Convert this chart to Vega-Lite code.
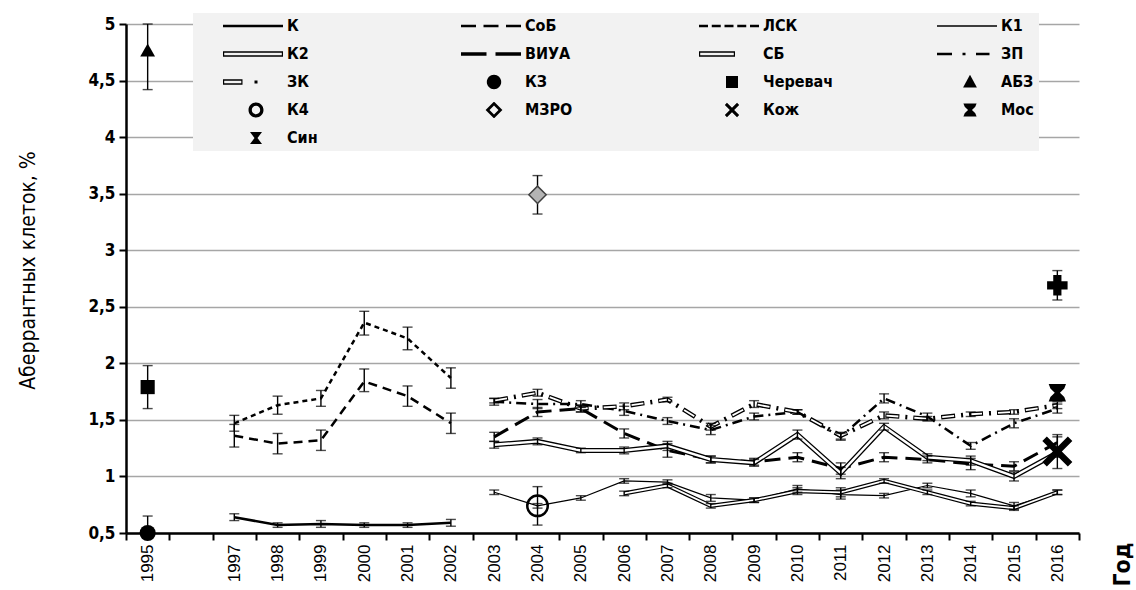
{
  "$schema": "https://vega.github.io/schema/vega-lite/v6.json",
  "width": 953,
  "height": 509,
  "autosize": {"type": "none"},
  "padding": {"left": 126, "top": 24, "right": 57, "bottom": 57},
  "background": "white",
  "config": {
    "view": {"stroke": null},
    "font": "Liberation Sans"
  },
  "data": {"values": [
    {"s": "К", "yr": 1997, "v": 0.64, "lo": 0.61, "hi": 0.67},
    {"s": "К", "yr": 1998, "v": 0.57, "lo": 0.55, "hi": 0.59},
    {"s": "К", "yr": 1999, "v": 0.58, "lo": 0.55, "hi": 0.61},
    {"s": "К", "yr": 2000, "v": 0.57, "lo": 0.55, "hi": 0.59},
    {"s": "К", "yr": 2001, "v": 0.57, "lo": 0.55, "hi": 0.59},
    {"s": "К", "yr": 2002, "v": 0.59, "lo": 0.56, "hi": 0.62},
    {"s": "СоБ", "yr": 1997, "v": 1.36, "lo": 1.26, "hi": 1.46},
    {"s": "СоБ", "yr": 1998, "v": 1.29, "lo": 1.2, "hi": 1.38},
    {"s": "СоБ", "yr": 1999, "v": 1.32, "lo": 1.23, "hi": 1.41},
    {"s": "СоБ", "yr": 2000, "v": 1.84, "lo": 1.75, "hi": 1.95},
    {"s": "СоБ", "yr": 2001, "v": 1.71, "lo": 1.62, "hi": 1.8},
    {"s": "СоБ", "yr": 2002, "v": 1.47, "lo": 1.38, "hi": 1.56},
    {"s": "ЛСК", "yr": 1997, "v": 1.47, "lo": 1.4, "hi": 1.54},
    {"s": "ЛСК", "yr": 1998, "v": 1.63, "lo": 1.55, "hi": 1.71},
    {"s": "ЛСК", "yr": 1999, "v": 1.69, "lo": 1.62, "hi": 1.76},
    {"s": "ЛСК", "yr": 2000, "v": 2.36, "lo": 2.25, "hi": 2.46},
    {"s": "ЛСК", "yr": 2001, "v": 2.22, "lo": 2.12, "hi": 2.32},
    {"s": "ЛСК", "yr": 2002, "v": 1.87, "lo": 1.78, "hi": 1.96},
    {"s": "К1", "yr": 2003, "v": 0.86, "lo": 0.84, "hi": 0.88},
    {"s": "К1", "yr": 2004, "v": 0.74, "lo": 0.72, "hi": 0.76},
    {"s": "К1", "yr": 2005, "v": 0.81, "lo": 0.79, "hi": 0.83},
    {"s": "К1", "yr": 2006, "v": 0.96, "lo": 0.94, "hi": 0.98},
    {"s": "К1", "yr": 2007, "v": 0.95, "lo": 0.93, "hi": 0.97},
    {"s": "К1", "yr": 2008, "v": 0.81, "lo": 0.78, "hi": 0.84},
    {"s": "К1", "yr": 2009, "v": 0.79, "lo": 0.77, "hi": 0.81},
    {"s": "К1", "yr": 2010, "v": 0.89, "lo": 0.86, "hi": 0.92},
    {"s": "К1", "yr": 2011, "v": 0.84, "lo": 0.8, "hi": 0.88},
    {"s": "К1", "yr": 2012, "v": 0.83, "lo": 0.81, "hi": 0.85},
    {"s": "К1", "yr": 2013, "v": 0.92, "lo": 0.9, "hi": 0.94},
    {"s": "К1", "yr": 2014, "v": 0.85, "lo": 0.82, "hi": 0.88},
    {"s": "К1", "yr": 2015, "v": 0.74, "lo": 0.71, "hi": 0.77},
    {"s": "К1", "yr": 2016, "v": 0.86, "lo": 0.84, "hi": 0.88},
    {"s": "К2", "yr": 2006, "v": 0.85, "lo": 0.83, "hi": 0.87},
    {"s": "К2", "yr": 2007, "v": 0.92, "lo": 0.9, "hi": 0.94},
    {"s": "К2", "yr": 2008, "v": 0.74, "lo": 0.72, "hi": 0.76},
    {"s": "К2", "yr": 2009, "v": 0.79, "lo": 0.77, "hi": 0.81},
    {"s": "К2", "yr": 2010, "v": 0.87, "lo": 0.84, "hi": 0.9},
    {"s": "К2", "yr": 2011, "v": 0.86, "lo": 0.82, "hi": 0.9},
    {"s": "К2", "yr": 2012, "v": 0.96, "lo": 0.94, "hi": 0.98},
    {"s": "К2", "yr": 2013, "v": 0.86, "lo": 0.84, "hi": 0.88},
    {"s": "К2", "yr": 2014, "v": 0.76, "lo": 0.74, "hi": 0.78},
    {"s": "К2", "yr": 2015, "v": 0.72, "lo": 0.7, "hi": 0.74},
    {"s": "К2", "yr": 2016, "v": 0.86, "lo": 0.84, "hi": 0.88},
    {"s": "ВИУА", "yr": 2003, "v": 1.35, "lo": 1.31, "hi": 1.39},
    {"s": "ВИУА", "yr": 2004, "v": 1.57, "lo": 1.53, "hi": 1.61},
    {"s": "ВИУА", "yr": 2005, "v": 1.6, "lo": 1.57, "hi": 1.63},
    {"s": "ВИУА", "yr": 2006, "v": 1.38, "lo": 1.34, "hi": 1.42},
    {"s": "ВИУА", "yr": 2007, "v": 1.23, "lo": 1.17, "hi": 1.29},
    {"s": "ВИУА", "yr": 2008, "v": 1.15, "lo": 1.12, "hi": 1.18},
    {"s": "ВИУА", "yr": 2009, "v": 1.13, "lo": 1.1, "hi": 1.16},
    {"s": "ВИУА", "yr": 2010, "v": 1.17, "lo": 1.13, "hi": 1.21},
    {"s": "ВИУА", "yr": 2011, "v": 1.07, "lo": 1.02, "hi": 1.12},
    {"s": "ВИУА", "yr": 2012, "v": 1.17, "lo": 1.13, "hi": 1.21},
    {"s": "ВИУА", "yr": 2013, "v": 1.15, "lo": 1.12, "hi": 1.18},
    {"s": "ВИУА", "yr": 2014, "v": 1.11, "lo": 1.06, "hi": 1.16},
    {"s": "ВИУА", "yr": 2015, "v": 1.09, "lo": 1.05, "hi": 1.13},
    {"s": "ВИУА", "yr": 2016, "v": 1.3, "lo": 1.25, "hi": 1.35},
    {"s": "СБ", "yr": 2003, "v": 1.28, "lo": 1.25, "hi": 1.31},
    {"s": "СБ", "yr": 2004, "v": 1.31, "lo": 1.28, "hi": 1.34},
    {"s": "СБ", "yr": 2005, "v": 1.23, "lo": 1.21, "hi": 1.25},
    {"s": "СБ", "yr": 2006, "v": 1.23, "lo": 1.2, "hi": 1.26},
    {"s": "СБ", "yr": 2007, "v": 1.27, "lo": 1.23, "hi": 1.31},
    {"s": "СБ", "yr": 2008, "v": 1.15, "lo": 1.12, "hi": 1.18},
    {"s": "СБ", "yr": 2009, "v": 1.12, "lo": 1.09, "hi": 1.15},
    {"s": "СБ", "yr": 2010, "v": 1.37, "lo": 1.33, "hi": 1.41},
    {"s": "СБ", "yr": 2011, "v": 1.03, "lo": 0.98, "hi": 1.08},
    {"s": "СБ", "yr": 2012, "v": 1.44, "lo": 1.41, "hi": 1.47},
    {"s": "СБ", "yr": 2013, "v": 1.17, "lo": 1.14, "hi": 1.2},
    {"s": "СБ", "yr": 2014, "v": 1.14, "lo": 1.1, "hi": 1.18},
    {"s": "СБ", "yr": 2015, "v": 1.0, "lo": 0.96, "hi": 1.04},
    {"s": "СБ", "yr": 2016, "v": 1.21, "lo": 1.17, "hi": 1.25},
    {"s": "ЗП", "yr": 2003, "v": 1.66, "lo": 1.63, "hi": 1.69},
    {"s": "ЗП", "yr": 2004, "v": 1.64, "lo": 1.6, "hi": 1.68},
    {"s": "ЗП", "yr": 2005, "v": 1.64, "lo": 1.61, "hi": 1.67},
    {"s": "ЗП", "yr": 2006, "v": 1.58, "lo": 1.54, "hi": 1.62},
    {"s": "ЗП", "yr": 2007, "v": 1.49, "lo": 1.46, "hi": 1.52},
    {"s": "ЗП", "yr": 2008, "v": 1.41, "lo": 1.37, "hi": 1.45},
    {"s": "ЗП", "yr": 2009, "v": 1.53, "lo": 1.5, "hi": 1.56},
    {"s": "ЗП", "yr": 2010, "v": 1.57, "lo": 1.55, "hi": 1.59},
    {"s": "ЗП", "yr": 2011, "v": 1.35, "lo": 1.32, "hi": 1.38},
    {"s": "ЗП", "yr": 2012, "v": 1.69, "lo": 1.65, "hi": 1.73},
    {"s": "ЗП", "yr": 2013, "v": 1.53, "lo": 1.5, "hi": 1.56},
    {"s": "ЗП", "yr": 2014, "v": 1.27, "lo": 1.24, "hi": 1.3},
    {"s": "ЗП", "yr": 2015, "v": 1.47, "lo": 1.43, "hi": 1.51},
    {"s": "ЗП", "yr": 2016, "v": 1.6, "lo": 1.56, "hi": 1.64},
    {"s": "ЗК", "yr": 2003, "v": 1.67, "lo": 1.65, "hi": 1.69},
    {"s": "ЗК", "yr": 2004, "v": 1.74, "lo": 1.71, "hi": 1.77},
    {"s": "ЗК", "yr": 2005, "v": 1.6, "lo": 1.57, "hi": 1.63},
    {"s": "ЗК", "yr": 2006, "v": 1.62, "lo": 1.59, "hi": 1.65},
    {"s": "ЗК", "yr": 2007, "v": 1.68, "lo": 1.66, "hi": 1.7},
    {"s": "ЗК", "yr": 2008, "v": 1.44, "lo": 1.41, "hi": 1.47},
    {"s": "ЗК", "yr": 2009, "v": 1.64, "lo": 1.61, "hi": 1.67},
    {"s": "ЗК", "yr": 2010, "v": 1.57, "lo": 1.55, "hi": 1.59},
    {"s": "ЗК", "yr": 2011, "v": 1.36, "lo": 1.33, "hi": 1.39},
    {"s": "ЗК", "yr": 2012, "v": 1.54, "lo": 1.51, "hi": 1.57},
    {"s": "ЗК", "yr": 2013, "v": 1.51, "lo": 1.49, "hi": 1.53},
    {"s": "ЗК", "yr": 2014, "v": 1.55, "lo": 1.53, "hi": 1.57},
    {"s": "ЗК", "yr": 2015, "v": 1.57, "lo": 1.55, "hi": 1.59},
    {"s": "ЗК", "yr": 2016, "v": 1.63, "lo": 1.6, "hi": 1.66},
    {"s": "КЗ", "yr": 1995, "v": 0.5, "lo": 0.5, "hi": 0.65},
    {"s": "Черевач", "yr": 1995, "v": 1.79, "lo": 1.6, "hi": 1.98},
    {"s": "АБЗ", "yr": 1995, "v": 4.77, "lo": 4.42, "hi": 5.0},
    {"s": "К4", "yr": 2004, "v": 0.74, "lo": 0.57, "hi": 0.91},
    {"s": "МЗРО", "yr": 2004, "v": 3.49, "lo": 3.32, "hi": 3.66},
    {"s": "Кож", "yr": 2016, "v": 1.22, "lo": 1.07, "hi": 1.37},
    {"s": "Мос", "yr": 2016, "v": 1.74, "lo": 1.68, "hi": 1.8},
    {"s": "Син", "yr": 2016, "v": 2.69, "lo": 2.56, "hi": 2.82}
  ]},
  "encoding": {
    "x": {
      "field": "yr", "type": "ordinal",
      "scale": {"type": "band", "domain": [1995,1996,1997,1998,1999,2000,2001,2002,2003,2004,2005,2006,2007,2008,2009,2010,2011,2012,2013,2014,2015,2016], "paddingInner": 0, "paddingOuter": 0},
      "axis": {
        "title": "Год", "labelAngle": -90, "labelExpr": "datum.value == 1996 ? '' : datum.label",
        "tickBand": "extent", "grid": false,
        "domainColor": "black", "domainWidth": 2.5, "tickColor": "black", "tickWidth": 2, "tickSize": 7,
        "labelFont": "Liberation Sans", "labelFontSize": 17, "labelColor": "black", "labelPadding": 4,
        "titleAngle": -90, "titleX": 996, "titleY": 31, "titleAlign": "center", "titleBaseline": "middle",
        "titleFont": "DejaVu Sans Condensed, sans-serif", "titleFontSize": 23, "titleFontWeight": "bold", "titleColor": "black"
      }
    },
    "y": {
      "field": "v", "type": "quantitative",
      "scale": {"domain": [0.5, 5], "nice": false, "zero": false},
      "axis": {
        "title": "Аберрантных клеток, %", "values": [0.5,1,1.5,2,2.5,3,3.5,4,4.5,5], "format": "~g",
        "labelExpr": "replace(datum.label, '.', ',')",
        "grid": true, "gridColor": "#a6a6a6", "gridWidth": 1.3,
        "domainColor": "black", "domainWidth": 2.5, "tickColor": "black", "tickWidth": 2, "tickSize": 7,
        "labelFont": "DejaVu Sans Condensed, sans-serif", "labelFontSize": 17, "labelFontWeight": "bold", "labelColor": "black", "labelPadding": 4,
        "titleX": -98, "titleY": 246, "titleAngle": -90, "titleAlign": "center", "titleBaseline": "middle",
        "titleFont": "DejaVu Sans Condensed, sans-serif", "titleFontSize": 21, "titleFontWeight": "normal", "titleColor": "black"
      }
    }
  },
  "layer": [
    {"transform": [{"filter": "datum.s == 'К'"}], "mark": {"type": "line", "color": "black", "strokeWidth": 2.5}},
    {"transform": [{"filter": "datum.s == 'СоБ'"}], "mark": {"type": "line", "color": "black", "strokeWidth": 2.5, "strokeDash": [9, 6]}},
    {"transform": [{"filter": "datum.s == 'ЛСК'"}], "mark": {"type": "line", "color": "black", "strokeWidth": 2.5, "strokeDash": [5, 4]}},
    {"transform": [{"filter": "datum.s == 'К1'"}], "mark": {"type": "line", "color": "black", "strokeWidth": 1.2}},
    {"transform": [{"filter": "datum.s == 'К2'"}], "mark": {"type": "line", "color": "black", "strokeWidth": 4.2}},
    {"transform": [{"filter": "datum.s == 'К2'"}], "mark": {"type": "line", "color": "white", "strokeWidth": 1.8}},
    {"transform": [{"filter": "datum.s == 'ВИУА'"}], "mark": {"type": "line", "color": "black", "strokeWidth": 3, "strokeDash": [16, 8]}},
    {"transform": [{"filter": "datum.s == 'СБ'"}], "mark": {"type": "line", "color": "black", "strokeWidth": 5}},
    {"transform": [{"filter": "datum.s == 'СБ'"}], "mark": {"type": "line", "color": "white", "strokeWidth": 2.4}},
    {"transform": [{"filter": "datum.s == 'ЗП'"}], "mark": {"type": "line", "color": "black", "strokeWidth": 2.5, "strokeDash": [10, 5, 2, 5]}},
    {"transform": [{"filter": "datum.s == 'ЗК'"}], "mark": {"type": "line", "color": "black", "strokeWidth": 4.5, "strokeDash": [14, 6, 2, 6]}},
    {"transform": [{"filter": "datum.s == 'ЗК'"}], "mark": {"type": "line", "color": "white", "strokeWidth": 1.8, "strokeDash": [12, 16], "strokeDashOffset": -1}},
    {"mark": {"type": "rule", "color": "black", "strokeWidth": 1.4}, "encoding": {"y": {"field": "lo", "type": "quantitative"}, "y2": {"field": "hi"}}},
    {"mark": {"type": "tick", "color": "black", "thickness": 1.4, "size": 10, "orient": "horizontal"}, "encoding": {"y": {"field": "lo", "type": "quantitative"}}},
    {"mark": {"type": "tick", "color": "black", "thickness": 1.4, "size": 10, "orient": "horizontal"}, "encoding": {"y": {"field": "hi", "type": "quantitative"}}},
    {"transform": [{"filter": "datum.s == 'КЗ'"}], "mark": {"type": "point", "shape": "circle", "filled": true, "color": "black", "size": 260, "opacity": 1}},
    {"transform": [{"filter": "datum.s == 'Черевач'"}], "mark": {"type": "point", "shape": "square", "filled": true, "color": "black", "size": 200, "opacity": 1}},
    {"transform": [{"filter": "datum.s == 'АБЗ'"}], "mark": {"type": "point", "shape": "triangle-up", "filled": true, "color": "black", "size": 220, "opacity": 1}},
    {"transform": [{"filter": "datum.s == 'К4'"}], "mark": {"type": "point", "shape": "circle", "filled": false, "color": "black", "strokeWidth": 2.5, "size": 420, "opacity": 1}},
    {"transform": [{"filter": "datum.s == 'МЗРО'"}], "mark": {"type": "point", "shape": "diamond", "filled": true, "color": "#b4b4b4", "stroke": "#404040", "strokeWidth": 1.5, "size": 300, "opacity": 1}},
    {"transform": [{"filter": "datum.s == 'Кож'"}], "mark": {"type": "point", "shape": "M-1,-0.7L-0.7,-1L0,-0.3L0.7,-1L1,-0.7L0.3,0L1,0.7L0.7,1L0,0.3L-0.7,1L-1,0.7L-0.3,0Z", "filled": true, "color": "black", "size": 900, "opacity": 1}},
    {"transform": [{"filter": "datum.s == 'Мос'"}], "mark": {"type": "point", "shape": "M-1,-1L1,-1L0.8,-0.5L0.3,0L0.8,0.5L1,1L-1,1L-0.8,0.5L-0.3,0L-0.8,-0.5Z", "filled": true, "color": "black", "size": 300, "opacity": 1}},
    {"transform": [{"filter": "datum.s == 'Син'"}], "mark": {"type": "point", "shape": "cross", "filled": true, "color": "black", "size": 420, "opacity": 1}},
    {
      "mark": {"type": "point", "filled": true, "color": "black", "opacity": 0},
      "encoding": {
        "shape": {
          "field": "s", "type": "nominal",
          "scale": {
            "domain": ["К","СоБ","ЛСК","К1","К2","ВИУА","СБ","ЗП","ЗК","КЗ","Черевач","АБЗ","К4","МЗРО","Кож","Мос","Син"],
            "range": [
              "M-1,-0.045H1V0.045H-1Z",
              "M-1,-0.045H-0.5V0.045H-1Z M-0.25,-0.045H0.25V0.045H-0.25Z M0.5,-0.045H1V0.045H0.5Z",
              "M-1,-0.045H-0.7V0.045H-1Z M-0.575,-0.045H-0.275V0.045H-0.575Z M-0.15,-0.045H0.15V0.045H-0.15Z M0.275,-0.045H0.575V0.045H0.275Z M0.7,-0.045H1V0.045H0.7Z",
              "M-1,-0.022H1V0.022H-1Z",
              "M-1,-0.09H1V-0.04H-1Z M-1,0.04H1V0.09H-1Z M-1,-0.09H-0.96V0.09H-1Z M0.96,-0.09H1V0.09H0.96Z",
              "M-1,-0.055H-0.15V0.055H-1Z M0.15,-0.055H1V0.055H0.15Z",
              "M-1,-0.09H0.2V-0.04H-1Z M-1,0.04H0.2V0.09H-1Z M-1,-0.09H-0.96V0.09H-1Z M0.16,-0.09H0.2V0.09H0.16Z",
              "M-1,-0.045H-0.5V0.045H-1Z M-0.15,-0.045H-0.05V0.045H-0.15Z M0.3,-0.045H0.75V0.045H0.3Z",
              "M-1,-0.09H-0.35V-0.04H-1Z M-1,0.04H-0.35V0.09H-1Z M-1,-0.09H-0.96V0.09H-1Z M-0.39,-0.09H-0.35V0.09H-0.39Z M0.05,-0.05H0.15V0.05H0.05Z",
              "M-0.14,0A0.24,0.24 0 1,0 0.34,0A0.24,0.24 0 1,0 -0.14,0Z",
              "M-0.1,-0.2H0.3V0.2H-0.1Z",
              "M0.1,-0.24L0.33,0.18H-0.13Z",
              "M-0.15,0A0.25,0.25 0 1,0 0.35,0A0.25,0.25 0 1,0 -0.15,0Z M-0.04,0A0.14,0.14 0 1,1 0.24,0A0.14,0.14 0 1,1 -0.04,0Z",
              "M0.1,-0.28L0.38,0L0.1,0.28L-0.18,0Z M0.1,-0.15L-0.05,0L0.1,0.15L0.25,0Z",
              "M-0.14,-0.168L-0.068,-0.24L0.1,-0.072L0.268,-0.24L0.34,-0.168L0.172,0L0.34,0.168L0.268,0.24L0.1,0.072L-0.068,0.24L-0.14,0.168L0.028,0Z",
              "M-0.12,-0.22L0.32,-0.22L0.276,-0.11L0.166,0L0.276,0.11L0.32,0.22L-0.12,0.22L-0.076,0.11L0.034,0L-0.076,-0.11Z",
              "M-0.1,-0.2L0.3,-0.2L0.15,0L0.3,0.2L-0.1,0.2L0.05,0Z"
            ]
          },
          "legend": {
            "title": null, "orient": "none", "legendX": 67, "legendY": -11,
            "direction": "horizontal", "columns": 4, "gridAlign": "all", "columnPadding": 78, "rowPadding": 12,
            "fillColor": "#f2f2f2", "padding": 5,
            "symbolSize": 3600, "symbolStrokeWidth": 0, "symbolFillColor": "black", "symbolOpacity": 1,
            "symbolOffset": 25, "labelOffset": 4, "clipHeight": 16,
            "labelFont": "DejaVu Sans Condensed, sans-serif", "labelFontSize": 16, "labelFontWeight": "bold", "labelColor": "black", "labelLimit": 0
          }
        }
      }
    }
  ]
}
